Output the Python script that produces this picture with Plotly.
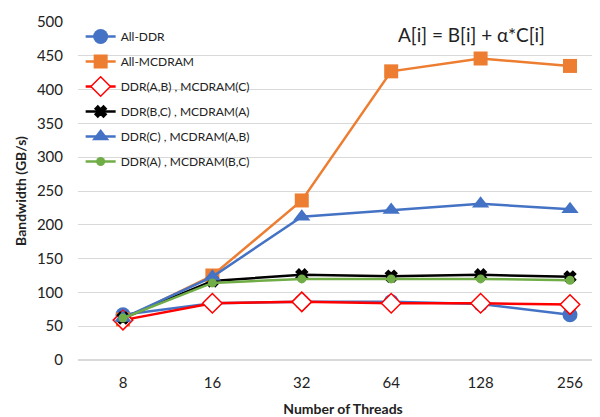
import plotly.graph_objects as go

threads = ["8", "16", "32", "64", "128", "256"]
all_ddr = [67, 84, 86, 86, 83, 67]
all_mcdram = [60, 125, 236, 427, 446, 435]
ddr_ab_mc_c = [59, 84, 86, 84, 84, 82]
ddr_bc_mc_a = [62, 117, 126, 124, 126, 123]
ddr_c_mc_ab = [62, 123, 212, 222, 231, 223]
ddr_a_mc_bc = [62, 114, 120, 120, 120, 118]

FONT = "Lato"
BLUE = "#4472C4"
ORANGE = "#ED7D31"
GREEN = "#70AD47"

series = [
    ("All-DDR", all_ddr, dict(color=BLUE, width=2.5),
     dict(symbol="circle", size=15, color=BLUE, line=dict(width=0))),
    ("All-MCDRAM", all_mcdram, dict(color=ORANGE, width=2.5),
     dict(symbol="square", size=14, color=ORANGE, line=dict(width=0))),
    ("DDR(A,B) , MCDRAM(C)", ddr_ab_mc_c, dict(color="#FF0000", width=2.5),
     dict(symbol="diamond", size=15, color="white", line=dict(width=1.5, color="#FF0000"))),
    ("DDR(B,C) , MCDRAM(A)", ddr_bc_mc_a, dict(color="black", width=2.5),
     dict(symbol="x", size=10, color="black", line=dict(width=1.5, color="black"))),
    ("DDR(C) , MCDRAM(A,B)", ddr_c_mc_ab, dict(color=BLUE, width=2.5),
     dict(symbol="triangle-up", size=15, color=BLUE, line=dict(width=0))),
    ("DDR(A) , MCDRAM(B,C)", ddr_a_mc_bc, dict(color=GREEN, width=2.5),
     dict(symbol="circle", size=9, color=GREEN, line=dict(width=0))),
]

fig = go.Figure()
for i, (name, vals, ln, mk) in enumerate(series):
    fig.add_trace(go.Scatter(x=threads, y=vals, name=name, mode="lines+markers",
                             line=ln, marker=mk, legendgroup=f"g{i}"))

fig.update_layout(
    width=600, height=417,
    margin=dict(l=70, r=0, t=14, b=65),
    paper_bgcolor="white", plot_bgcolor="white",
    font=dict(family=FONT, size=15, color="#222222"),
    showlegend=True,
    legend=dict(x=0.005, y=1.0, xanchor="left", yanchor="top",
                bgcolor="rgba(0,0,0,0)", font=dict(size=12, color="#222222"),
                tracegroupgap=6, itemwidth=30),
    xaxis=dict(type="category", range=[-0.503, 5.425], showgrid=False,
               zeroline=False, showline=False, ticks="",
               ticklabelstandoff=12,
               title=dict(text="<b>Number of Threads</b>", font=dict(size=14), standoff=14)),
    yaxis=dict(range=[0, 500], dtick=50, showgrid=True, gridcolor="#D9D9D9",
               gridwidth=1, zeroline=True, zerolinecolor="#D9D9D9", zerolinewidth=1.5,
               showline=False, ticks="", ticklabelstandoff=14,
               title=dict(text="<b>Bandwidth (GB/s)</b>", font=dict(size=14), standoff=6)),
    annotations=[dict(text="A[i] = B[i] + α*C[i]", x=464, y=27, xref="paper", yref="paper",
                      showarrow=False, font=dict(size=19, color="#222222"))],
)
# position annotation in pixel terms via paper coordinates
ann = fig.layout.annotations[0]
ann.x = (464 - 70) / 530
ann.y = (352 - 27) / 338
ann.xanchor = "center"
ann.yanchor = "middle"

fig.write_html("out.html")
